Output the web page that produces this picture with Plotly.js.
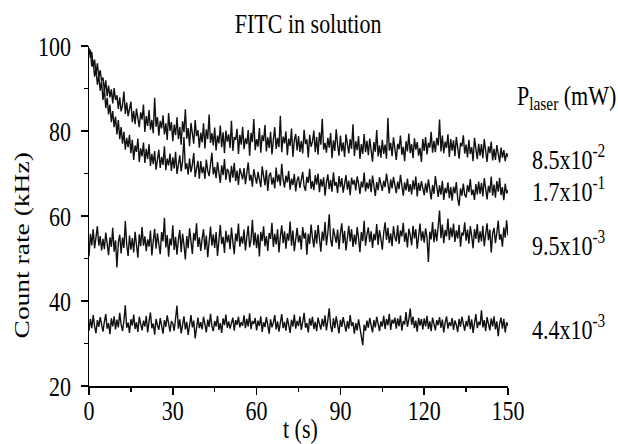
<!DOCTYPE html>
<html>
<head>
<meta charset="utf-8">
<script src="https://cdn.plot.ly/plotly-3.0.1.min.js"></script>
<style>
html,body{margin:0;padding:0;background:#fff;}
#chart{width:618px;height:444px;}
</style>
</head>
<body>
<div id="chart"></div>
<script>
// sampling interval of the recorded traces (s)
const tStep = 0.5;

// P = 8.5x10^-2 mW
const series85e2 = [
99.5,97.2,98.6,95.1,96.8,93.4,95.9,92.7,94.3,91.8,
92.6,89.4,91.9,88.2,90.7,87.9,89.8,86.5,90.1,87.3,
88.4,85.2,87.9,84.6,86.1,89.3,84.0,86.7,83.5,85.8,
86.9,82.1,84.7,81.6,85.3,83.0,80.9,84.4,82.7,86.2,
79.8,83.5,81.2,84.9,80.3,82.6,79.5,87.8,81.0,83.3,
78.9,82.4,80.6,83.7,79.2,81.8,77.9,84.2,80.0,82.1,
77.6,81.5,79.0,83.2,78.1,80.9,76.8,82.3,79.7,85.1,
78.2,80.7,76.4,81.9,79.3,77.0,82.6,78.8,80.2,76.1,
79.6,77.3,81.8,75.9,80.4,78.1,83.9,77.2,79.5,76.6,
80.8,75.4,78.9,77.1,81.3,76.2,79.7,74.8,80.1,77.5,
79.2,76.0,82.4,75.3,78.6,77.9,80.5,74.6,79.1,76.8,
81.0,75.7,78.3,76.9,80.2,74.2,79.6,77.4,82.8,75.5,
78.1,76.3,80.7,74.9,79.0,77.6,81.4,75.2,78.5,76.0,
79.8,74.5,77.9,80.9,75.8,78.4,76.2,83.6,75.0,78.7,
77.1,79.9,74.3,78.2,76.5,80.6,73.9,77.8,79.3,75.4,
78.8,75.1,77.6,74.7,80.3,76.9,78.0,73.8,79.1,76.3,
77.5,80.1,75.0,78.6,74.4,79.7,76.8,82.9,75.6,77.2,
74.9,78.4,76.1,79.5,73.6,77.8,75.3,80.4,76.7,74.2,
78.9,75.2,77.3,73.9,79.2,76.4,74.7,78.1,75.8,81.6,
74.1,77.6,75.5,78.8,73.4,76.9,74.6,79.3,75.0,77.7,
74.3,78.2,75.9,72.8,77.4,75.1,80.2,74.0,76.6,73.7,
77.9,74.6,76.8,73.5,83.1,75.4,77.2,74.1,78.5,75.0,
73.2,77.0,75.7,78.9,74.4,76.3,72.9,77.6,75.2,79.4,
74.8,76.9,73.6,78.3,75.6,77.4,74.2,76.0,72.7,78.1,
75.3,78.6,74.5,77.2,76.1,79.8,74.9,77.7,75.0,78.4,
76.6,82.7,75.2,78.9,74.8,77.5,76.0,79.2,73.9,78.1,
75.4,77.8,74.1,78.6,75.9,73.5,77.2,76.4,79.0,74.7,
76.8,73.8,77.9,74.6,76.2,72.9,78.4,75.1,73.4,77.0,
74.2,76.9,73.6,78.1,75.3,72.7,76.4,74.8,77.5,73.1,
75.8,73.2,76.7,74.0,72.6,76.1,73.7,75.5,72.9,74.8,
73.9
];

// P = 1.7x10^-1 mW
const series17e1 = [
97.8,99.1,95.2,96.4,92.8,94.6,90.9,93.1,89.5,91.7,
87.3,89.9,85.4,87.8,83.9,86.2,82.1,84.7,80.9,83.4,
79.2,82.6,78.1,80.9,77.0,79.8,75.6,78.4,76.2,79.1,
74.8,77.9,73.2,76.6,75.1,78.2,72.7,75.9,74.0,77.3,
72.5,75.8,73.4,76.9,71.8,74.6,72.2,75.3,70.9,74.1,
75.6,71.3,73.9,72.0,76.4,70.8,73.5,71.9,74.7,70.6,
73.8,71.2,75.1,69.9,72.6,74.3,70.5,72.9,78.6,71.0,
72.4,69.7,73.6,70.3,72.1,74.8,69.2,71.7,73.0,68.8,
72.9,70.1,71.6,68.7,73.3,70.6,69.4,72.2,74.9,69.8,
71.5,68.9,72.7,70.2,67.8,71.9,69.6,73.4,68.5,71.1,
70.4,67.9,71.8,69.0,72.5,68.2,70.7,67.3,71.2,69.9,
68.6,71.3,67.5,70.1,72.6,68.3,69.7,66.9,71.0,69.2,
67.6,70.4,68.9,66.8,71.7,69.0,67.2,70.8,65.9,69.5,
70.2,67.4,69.1,66.5,71.4,68.0,69.8,67.1,72.3,68.6,
66.7,69.5,67.9,70.6,66.2,68.8,67.3,69.9,65.8,68.4,
69.3,66.6,68.1,70.4,67.0,65.9,69.2,67.8,71.1,66.4,
68.2,66.1,69.6,67.4,70.0,65.6,68.7,66.9,69.1,64.8,
67.9,69.8,66.3,68.5,65.7,70.3,67.1,68.0,65.4,69.4,
66.8,68.9,65.5,67.7,69.6,66.2,68.3,64.9,69.0,67.4,
68.5,66.0,69.3,67.6,65.2,68.1,66.7,70.2,65.8,67.9,
66.4,68.7,65.6,69.5,67.2,64.7,68.0,66.1,69.1,67.5,
65.9,68.3,66.8,70.0,67.4,65.3,68.6,66.5,69.2,67.0,
65.4,68.1,66.3,69.7,67.6,64.8,67.9,66.0,68.8,65.7,
67.5,65.1,68.4,66.2,69.3,64.6,67.8,65.9,68.2,66.4,
64.9,67.7,65.5,68.6,66.0,63.9,67.3,65.2,69.4,66.1,
64.5,67.2,65.0,68.3,63.8,66.6,65.4,67.9,64.2,66.8,
63.6,66.9,65.3,68.0,64.1,62.4,66.5,64.8,67.6,65.0,
64.4,67.3,65.6,68.7,64.9,66.2,63.8,67.5,65.1,68.1,
65.2,67.8,64.6,68.9,66.3,63.9,67.1,65.5,69.3,64.8,
67.4,64.3,68.2,65.7,69.0,64.9,66.8,63.7,67.6,65.3,
66.1
];

// P = 9.5x10^-3 mW
const series95e3 = [
50.5,55.8,53.1,56.9,52.4,54.7,57.6,53.0,55.3,51.9,
54.6,52.2,56.1,53.5,50.8,55.0,52.7,57.2,51.6,54.3,
47.9,53.8,55.6,51.2,54.9,52.5,58.8,53.3,50.6,55.4,
52.1,54.8,51.4,56.3,53.6,50.2,55.7,52.9,57.4,53.0,
55.2,51.7,54.5,52.8,56.6,50.7,54.1,57.0,52.3,55.9,
53.4,51.0,56.2,54.0,59.6,52.6,55.5,50.4,54.7,53.1,
57.8,52.0,55.1,50.9,54.4,56.7,51.5,55.8,53.2,49.8,
55.3,52.4,57.1,53.7,51.1,56.0,54.2,58.3,52.7,55.0,
51.8,54.6,56.9,52.1,55.4,50.3,54.9,57.5,53.0,55.7,
52.5,56.2,50.6,54.3,57.9,53.4,55.1,51.3,56.5,53.8,
55.6,52.2,57.3,53.9,51.0,55.9,54.0,58.2,52.8,55.2,
53.5,56.8,51.9,55.0,57.7,52.6,54.4,59.1,53.1,56.1,
52.4,55.7,50.5,56.3,54.1,57.6,52.9,55.3,51.8,56.0,
54.6,58.4,52.7,55.8,53.3,56.9,51.4,55.1,57.8,53.6,
56.4,52.3,55.9,54.2,58.7,53.0,56.6,51.7,55.4,57.2,
53.8,55.5,52.1,57.4,54.7,56.1,50.9,55.8,53.4,58.0,
54.9,52.6,56.7,53.5,57.9,55.0,51.6,56.3,54.2,58.6,
53.1,56.0,60.4,54.5,52.8,57.1,55.3,53.7,56.8,52.2,
55.9,58.3,53.6,56.5,51.9,55.2,57.7,54.0,56.9,52.7,
55.6,53.3,57.4,54.8,51.5,56.2,54.1,58.9,53.0,55.7,
57.3,53.9,56.4,52.5,55.8,54.3,58.1,53.2,56.7,54.6,
52.1,56.0,58.5,54.4,57.2,53.6,55.9,52.9,57.6,55.1,
54.0,57.8,53.4,56.6,55.2,58.4,53.9,56.1,52.6,57.0,
55.5,53.1,57.7,54.7,56.9,52.3,55.8,58.2,54.2,56.4,
53.7,57.1,55.0,49.2,56.3,54.5,58.6,53.8,56.9,54.1,
57.5,61.3,54.8,58.0,53.6,56.7,55.2,59.4,54.3,57.3,
55.0,58.2,53.9,56.6,54.7,57.9,52.8,56.1,55.4,58.5,
54.2,56.8,53.5,57.6,55.3,52.4,56.9,54.6,58.1,53.7,
56.4,54.0,57.7,52.9,55.6,58.3,54.3,56.8,51.4,55.9,
57.2,53.6,56.0,58.9,54.4,55.7,52.8,57.3,54.9,59.0,
55.4
];

// P = 4.4x10^-3 mW
const series44e3 = [
33.0,35.8,33.6,36.7,34.1,32.4,35.5,33.9,36.2,34.4,
32.8,35.1,36.9,33.5,34.8,32.2,35.9,34.0,36.4,33.3,
35.6,33.8,37.2,34.5,32.9,35.3,39.0,33.7,34.9,32.5,
35.7,34.2,36.8,33.4,35.0,32.7,36.3,34.6,33.1,35.4,
34.0,36.5,32.6,35.2,37.3,33.6,34.7,32.1,35.8,34.3,
33.2,36.0,34.4,32.3,35.5,33.9,36.6,34.1,32.8,35.3,
34.7,33.0,36.2,38.9,33.5,35.7,32.4,34.9,36.4,33.3,
35.1,32.0,34.6,36.7,33.8,35.4,31.2,34.2,36.1,33.6,
35.0,33.3,36.3,34.5,32.6,35.6,33.9,37.0,34.1,32.9,
35.3,34.0,36.5,33.2,34.8,32.5,35.9,34.3,36.8,33.7,
35.2,33.5,34.7,36.1,33.0,35.5,34.4,36.3,33.8,35.0,
34.2,36.6,33.6,35.8,34.0,37.1,33.4,35.3,34.6,36.0,
33.1,35.4,34.1,36.4,32.7,35.0,33.9,36.2,34.4,32.3,
35.7,33.8,34.9,36.7,33.3,35.2,32.8,34.5,36.9,33.6,
35.1,33.0,36.0,34.3,32.5,35.6,34.0,36.8,33.5,35.3,
34.1,36.4,33.2,35.0,37.2,33.7,34.8,32.6,35.9,34.2,
36.3,33.4,35.1,32.9,36.1,34.6,33.3,35.8,34.0,36.6,
33.1,35.5,38.3,34.2,32.7,35.9,33.6,36.4,34.4,32.4,
35.6,33.9,36.2,34.7,32.8,35.3,33.5,36.7,34.1,35.0,
32.3,34.8,33.1,35.7,33.6,32.2,29.6,34.4,33.0,35.4,
33.7,36.0,34.2,32.6,35.5,33.8,36.3,34.6,32.9,35.2,
34.0,36.5,33.4,35.8,34.3,37.0,33.2,35.6,34.7,36.1,
33.5,35.9,34.1,36.6,33.0,35.3,34.5,37.4,33.9,35.7,
38.2,34.4,36.3,33.6,35.4,32.8,36.0,34.2,35.8,33.3,
35.9,34.0,36.5,33.4,35.2,32.9,36.1,34.6,33.1,35.5,
34.3,36.2,33.7,35.6,32.6,34.9,36.4,33.5,35.0,34.1,
36.0,33.2,35.4,34.4,32.7,35.8,33.9,36.3,34.2,33.0,
35.3,34.0,36.6,33.4,35.7,32.5,34.8,36.9,33.6,35.1,
34.3,37.8,33.8,35.5,32.9,36.2,34.6,33.1,35.9,34.0,
36.4,33.3,35.2,31.7,34.7,36.1,33.5,35.8,32.6,35.0,
34.2
];

const seriesLabels = ["8.5x10<sup>-2</sup>", "1.7x10<sup>-1</sup>", "9.5x10<sup>-3</sup>", "4.4x10<sup>-3</sup>"];
const labelLevels = [73.9, 66.4, 53.6, 33.9];
const legendTitle = "P<sub>laser</sub> (mW)";
const xTicks = [0, 30, 60, 90, 120, 150];
const yTicks = [20, 40, 60, 80, 100];

const allSeries = [series85e2, series17e1, series95e3, series44e3];
const FONT = "Liberation Serif, serif";
const SZ = 22;

const traces = allSeries.map(function (ys) {
  return {
    x: ys.map(function (_, i) { return i * tStep; }),
    y: ys,
    type: "scatter",
    mode: "lines",
    line: { color: "#111111", width: 1.4 },
    hoverinfo: "skip",
    showlegend: false
  };
});

const annotations = seriesLabels.map(function (txt, k) {
  return {
    text: txt, xref: "paper", yref: "y",
    x: 1.052, y: labelLevels[k], xanchor: "left", yanchor: "middle",
    showarrow: false, font: { family: FONT, size: SZ, color: "#000" }
  };
});
annotations.push({
  text: legendTitle, xref: "paper", yref: "y",
  x: 1.262, y: 88.0, xanchor: "right", yanchor: "middle",
  showarrow: false, font: { family: FONT, size: SZ, color: "#000" }
});
annotations.push({
  text: "Count rate (kHz)", xref: "paper", yref: "paper",
  x: -0.160, y: 0.415, xanchor: "center", yanchor: "middle", textangle: -90,
  showarrow: false, font: { family: FONT, size: SZ, color: "#000" }
});
annotations.push({
  text: "t (s)", xref: "paper", yref: "paper",
  x: 0.505, y: -0.124, xanchor: "center", yanchor: "middle",
  showarrow: false, font: { family: FONT, size: SZ, color: "#000" }
});

const axisCommon = {
  showline: true, linecolor: "#000", linewidth: 1.5,
  ticks: "outside", tickcolor: "#000", tickwidth: 1.5, ticklen: 7,
  showgrid: false, zeroline: false, mirror: false,
  tickfont: { family: FONT, size: SZ, color: "#000" },
  fixedrange: true
};

const layout = {
  width: 618, height: 444,
  margin: { l: 89, r: 110, t: 46, b: 58, pad: 0 },
  paper_bgcolor: "#fff", plot_bgcolor: "#fff",
  font: { family: FONT, size: SZ, color: "#000" },
  title: {
    text: "FITC in solution", xref: "paper", x: 0.523, xanchor: "center",
    yref: "container", y: 0.948, yanchor: "middle",
    font: { family: FONT, size: SZ, color: "#000" }
  },
  xaxis: Object.assign({}, axisCommon, {
    range: [0, 150], tickmode: "array", tickvals: xTicks,
    ticklabelstandoff: -3,
    minor: { dtick: 15, ticks: "outside", ticklen: 4, tickwidth: 1.5, tickcolor: "#000", showgrid: false }
  }),
  yaxis: Object.assign({}, axisCommon, {
    range: [20, 100], tickmode: "array", tickvals: yTicks,
    ticklabelstandoff: 5,
    minor: { dtick: 10, ticks: "outside", ticklen: 4, tickwidth: 1.5, tickcolor: "#000", showgrid: false }
  }),
  annotations: annotations,
  showlegend: false
};

// the reference typesetting is taller than it is wide: stretch each text about its own centre
function stretchTexts(gd, k) {
  gd.querySelectorAll("svg text").forEach(function (t) {
    let bb;
    try { bb = t.getBBox(); } catch (e) { return; }
    if (!bb || !bb.width) return;
    let rotated = false;
    for (let n = t; n && n.nodeName !== "svg"; n = n.parentNode) {
      const tr = n.getAttribute && n.getAttribute("transform");
      if (tr && /rotate\(\s*-?90/.test(tr)) { rotated = true; break; }
    }
    const cx = bb.x + bb.width / 2, cy = bb.y + bb.height / 2;
    const sc = rotated ? "scale(" + k + ",1)" : "scale(1," + k + ")";
    const old = t.getAttribute("transform") || "";
    t.setAttribute("transform", old + " translate(" + cx + "," + cy + ") " + sc + " translate(" + (-cx) + "," + (-cy) + ")");
  });
}

Plotly.newPlot("chart", traces, layout, { displayModeBar: false, staticPlot: true })
  .then(function (gd) { stretchTexts(gd, 1.25); });
</script>
</body>
</html>
